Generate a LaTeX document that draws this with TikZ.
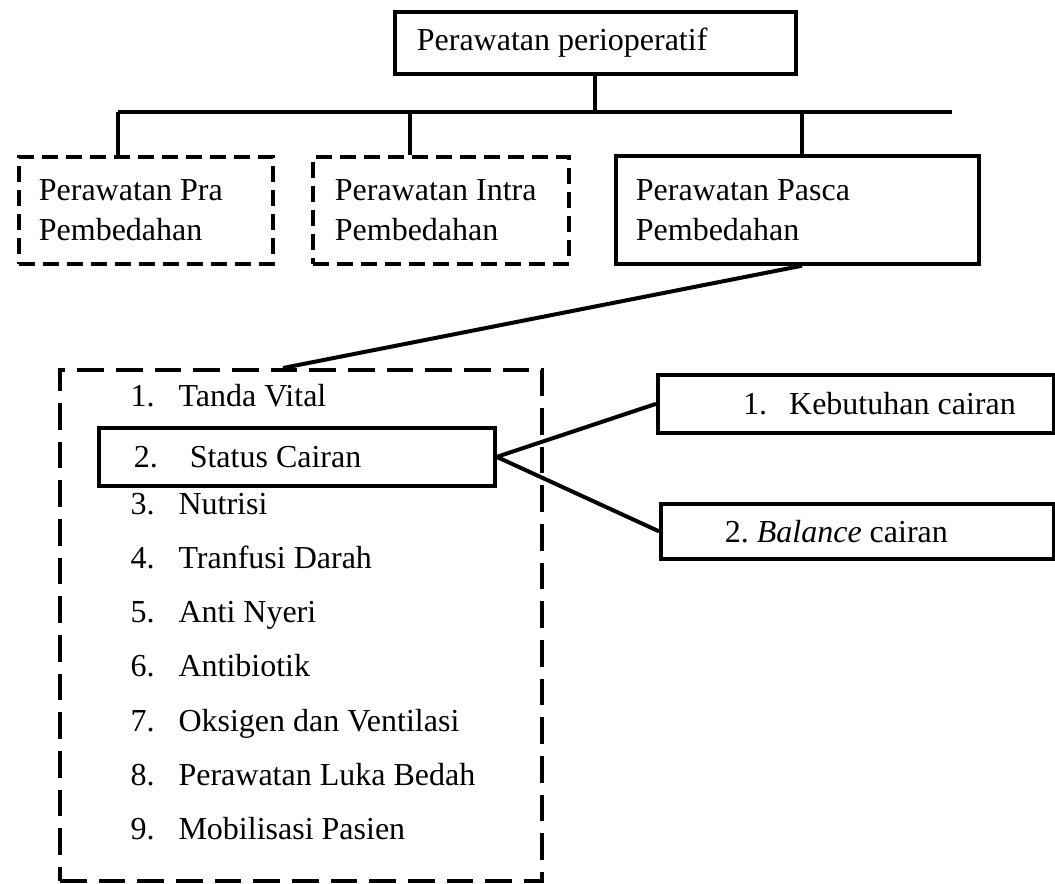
\documentclass[tikz,border=0pt]{standalone}
\usepackage{fontspec}
\setmainfont{Liberation Serif}
\usepackage{tikz}

\newcommand{\numlabel}[2]{\makebox[#1][l]{#2}}

\begin{document}
\begin{tikzpicture}[x=0.375pt, y=-0.375pt, font=\fontsize{12}{15}\selectfont,
        box/.style={rectangle, draw, line width=1.4pt, anchor=north west, align=flush left, inner xsep=0pt, inner ysep=0pt},
        dbox/.style={box, dash pattern=on 6pt off 3pt},
        item/.style={anchor=west, inner sep=0pt, text height=8.5pt, text depth=2.5pt},
        line/.style={draw, line width=1.5pt}]

        \useasboundingbox (0,0) rectangle (1055,884);

        % Nodes
        \node [box, minimum width=150.4pt, minimum height=23.25pt, text width=150.4pt] (peri) at (393,10) {\hspace*{8.25pt}Perawatan perioperatif};
        \node [dbox, minimum width=95.25pt, minimum height=40.1pt, text width=95.25pt] (pra) at (17,155) {\hspace*{7.5pt}Perawatan Pra\\ \hspace*{7.5pt}Pembedahan};
        \node [dbox, minimum width=96pt, minimum height=40.1pt, text width=96pt] (intra) at (311,155) {\hspace*{8.25pt}Perawatan Intra\\ \hspace*{8.25pt}Pembedahan};
        \node [box, minimum width=136.1pt, minimum height=40.5pt, text width=136.1pt] (pasca) at (614,154) {\hspace*{7.5pt}Perawatan Pasca\\ \hspace*{7.5pt}Pembedahan};

        % List of care items
        \node [box, dash pattern=on 10pt off 4.5pt, minimum width=180.75pt, minimum height=191.6pt] (list) at (58,368) {};
        \foreach \n/\t/\y in {1/Tanda Vital/399, 3/Nutrisi/507, 4/Tranfusi Darah/561, 5/Anti Nyeri/615,
                6/Antibiotik/669, 7/Oksigen dan Ventilasi/724, 8/Perawatan Luka Bedah/778, 9/Mobilisasi Pasien/832}
            \node [item] (item\n) at (130,\y) {\numlabel{18pt}{\n.}\t};
        \node [box, minimum width=148.5pt, minimum height=21.75pt, text width=148.5pt] (status) at (97,426) {\hspace*{13.1pt}\numlabel{21pt}{2.}Status Cairan};

        % Fluid status
        \node [box, minimum width=148.5pt, minimum height=21.75pt, text width=148.5pt] (keb) at (656,373) {\hspace*{32pt}\numlabel{17.25pt}{1.}Kebutuhan cairan};
        \node [box, minimum width=147.4pt, minimum height=20.6pt, text width=147.4pt] (bal) at (659,502) {\hspace*{24pt}\numlabel{12pt}{2.}\textit{Balance} cairan};

        % Bus coordinates
        \coordinate (busL) at (118,112);
        \coordinate (busR) at (952,112);
        \coordinate (dropB) at (410,112);
        \coordinate (dropC) at (802,112);
        \coordinate (listTop) at (283,368);

        % Paths
        \path [line] (peri.south) -- (peri.south |- busL);
        \path [line] (busL) -- (busR);
        \path [line] (busL) -- (busL |- pra.north);
        \path [line] (dropB) -- (dropB |- intra.north);
        \path [line] (dropC) -- (dropC |- pasca.north);
        \path [line] (dropC |- pasca.south) -- (listTop);
        \path [line] (status.east) -- (keb.west);
        \path [line] (status.east) -- (bal.west);

    \end{tikzpicture}
\end{document}
